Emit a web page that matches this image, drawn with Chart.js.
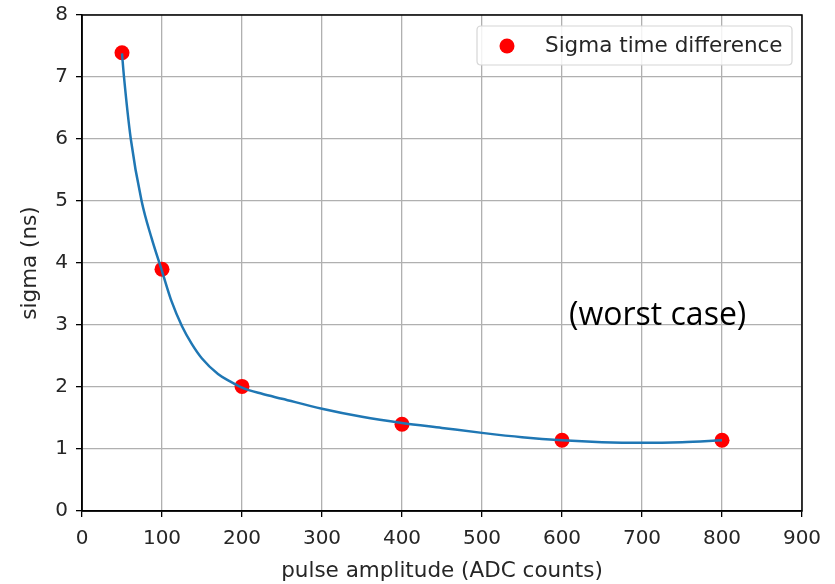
<!DOCTYPE html>
<html><head><meta charset="utf-8">
<script src="https://cdn.jsdelivr.net/npm/chart.js@4/dist/chart.umd.min.js"></script>
<style>html,body{margin:0;padding:0;background:#fff}#wrap{width:835px;height:584px}</style>
</head><body><div id="wrap"><canvas id="c" width="835" height="584"></canvas></div>
<script>
const pointX = [50, 100, 200, 400, 600, 800];
const pointY = [7.39, 3.9, 2.01, 1.4, 1.14, 1.14];
const curveX = [50, 52.5, 61, 74.5, 87, 100, 112, 125, 137, 150, 170, 185, 200, 225, 250, 300, 350, 400, 450, 500, 550, 600, 650, 700, 750, 800];
const curveY = [7.38, 7.0, 6.0, 5.0, 4.4, 3.87, 3.38, 2.98, 2.7, 2.46, 2.21, 2.09, 1.99, 1.89, 1.81, 1.65, 1.52, 1.42, 1.34, 1.26, 1.19, 1.14, 1.11, 1.10, 1.11, 1.14];
const xTicks = [0, 100, 200, 300, 400, 500, 600, 700, 800, 900];
const yTicks = [0, 1, 2, 3, 4, 5, 6, 7, 8];
const legendLabel = 'Sigma time difference';
const xTitle = 'pulse amplitude (ADC counts)';
const yTitle = 'sigma (ns)';
const note = '(worst case)';

const FONT = "'DejaVu Sans', sans-serif";
const TXT = '#262626';

const deco = {
  id: 'deco',
  afterDatasetsDraw(chart) {
    const ctx = chart.ctx, a = chart.chartArea;
    ctx.save();
    ctx.strokeStyle = '#000'; ctx.lineWidth = 1.5;
    ctx.strokeRect(a.left, a.top, a.right - a.left, a.bottom - a.top);
    ctx.fillStyle = '#000';
    ctx.font = "32px 'Open Sans', sans-serif";
    ctx.textBaseline = 'middle'; ctx.textAlign = 'left';
    ctx.fillText(note, 569, 316);
    const lx = 477, ly = 26, lw = 315, lh = 39, r = 4;
    ctx.beginPath();
    ctx.moveTo(lx + r, ly); ctx.lineTo(lx + lw - r, ly); ctx.quadraticCurveTo(lx + lw, ly, lx + lw, ly + r);
    ctx.lineTo(lx + lw, ly + lh - r); ctx.quadraticCurveTo(lx + lw, ly + lh, lx + lw - r, ly + lh);
    ctx.lineTo(lx + r, ly + lh); ctx.quadraticCurveTo(lx, ly + lh, lx, ly + lh - r);
    ctx.lineTo(lx, ly + r); ctx.quadraticCurveTo(lx, ly, lx + r, ly); ctx.closePath();
    ctx.fillStyle = 'rgba(255,255,255,0.85)'; ctx.fill();
    ctx.strokeStyle = '#d6d6d6'; ctx.lineWidth = 1.2; ctx.stroke();
    ctx.beginPath(); ctx.arc(507, 46, 7.5, 0, Math.PI * 2); ctx.fillStyle = '#ff0000'; ctx.fill();
    ctx.fillStyle = TXT; ctx.font = '21.5px ' + FONT; ctx.textBaseline = 'middle';
    ctx.fillText(legendLabel, 545, 46);
    ctx.restore();
  }
};

new Chart(document.getElementById('c'), {
  type: 'scatter',
  data: {
    datasets: [
      { label: 'fit', data: curveX.map((x, i) => ({ x, y: curveY[i] })), showLine: true,
        borderColor: '#1f77b4', borderWidth: 2.5, pointRadius: 0, cubicInterpolationMode: 'monotone', order: 0 },
      { label: legendLabel, data: pointX.map((x, i) => ({ x, y: pointY[i] })), showLine: false,
        backgroundColor: '#ff0000', borderColor: '#ff0000', pointRadius: 7.5, pointBorderWidth: 0, order: 1 }
    ]
  },
  options: {
    responsive: false, animation: false,
    layout: { padding: { top: 15, right: 33, left: 0, bottom: 0 } },
    plugins: { legend: { display: false }, tooltip: { enabled: false } },
    scales: {
      x: {
        type: 'linear', min: 0, max: 900,
        afterBuildTicks(s) { s.ticks = xTicks.map(v => ({ value: v })); },
        afterFit(s) { s.height = 73; s.paddingLeft = 0; s.paddingRight = 0; },
        ticks: { color: TXT, font: { family: FONT, size: 20 }, padding: 10, maxRotation: 0 },
        grid: { color: '#b0b0b0', lineWidth: 1.3, tickLength: 6, tickColor: '#000', tickWidth: 1.3 },
        border: { color: '#000', width: 1.5 },
        title: { display: true, text: xTitle, color: TXT, font: { family: FONT, size: 21.5 }, padding: { top: 0, bottom: 0 } }
      },
      y: {
        type: 'linear', min: 0, max: 8,
        afterBuildTicks(s) { s.ticks = yTicks.map(v => ({ value: v })); },
        afterFit(s) { s.width = 82; s.paddingTop = 0; s.paddingBottom = 0; },
        ticks: { color: TXT, font: { family: FONT, size: 20 }, padding: 8 },
        grid: { color: '#b0b0b0', lineWidth: 1.3, tickLength: 6, tickColor: '#000', tickWidth: 1.3 },
        border: { color: '#000', width: 1.5 },
        title: { display: true, text: yTitle, color: TXT, font: { family: FONT, size: 21.5 }, padding: { top: 18, bottom: 0 } }
      }
    }
  },
  plugins: [deco]
});
</script></body></html>
